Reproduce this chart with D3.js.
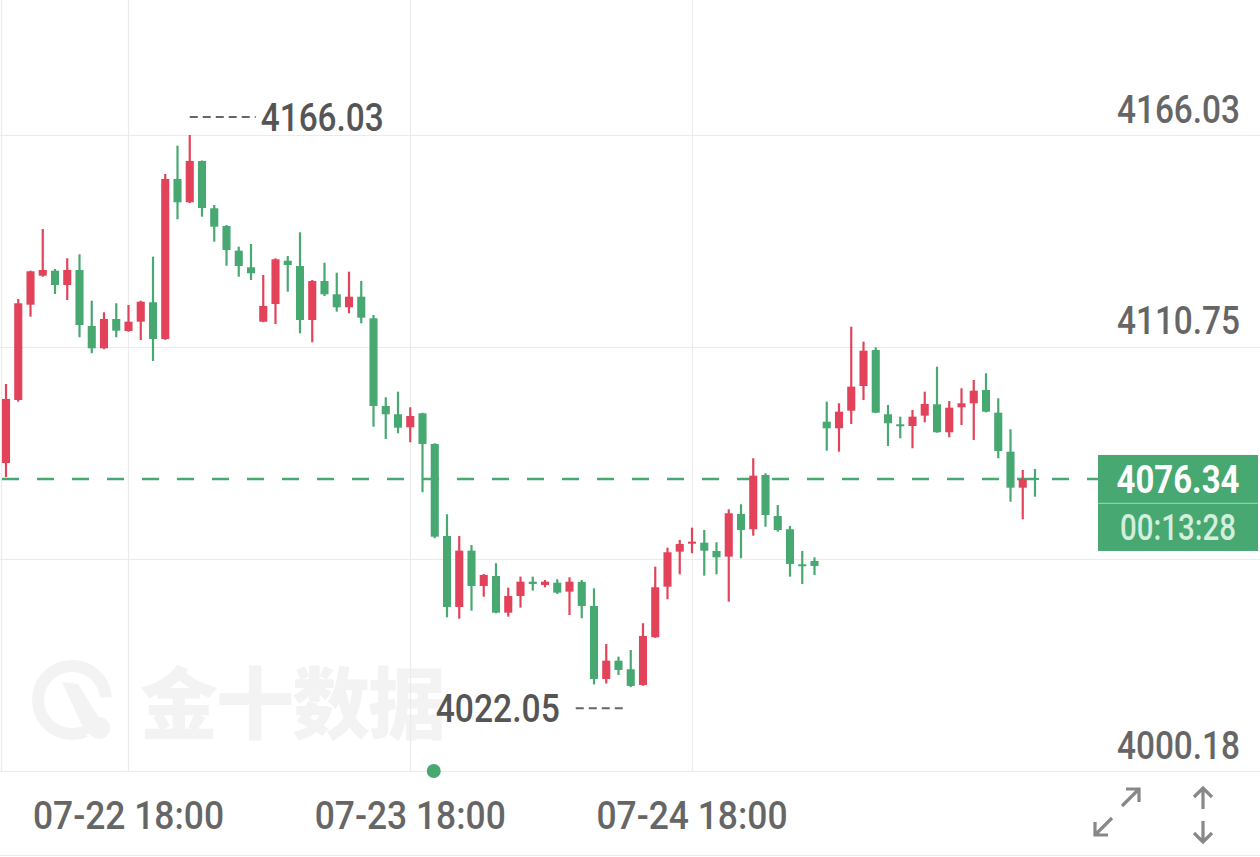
<!DOCTYPE html>
<html>
<head>
<meta charset="utf-8">
<script src="https://cdn.jsdelivr.net/npm/d3@7"></script>
<style>
  html, body { margin: 0; padding: 0; background: #fff; }
  svg { display: block; }
</style>
</head>
<body>
<div id="chart"></div>
<script>
// hourly candles, 07-22 08:00 onwards (one hour break each day)
const opens = [4080.50, 4096.93, 4121.78, 4129.34, 4130.65, 4126.92, 4130.83, 4116.23, 4110.41, 4118.05,
  4114.92, 4117.35, 4122.41, 4112.84, 4154.56, 4148.48, 4159.25, 4146.92, 4142.30, 4135.86,
  4131.53, 4117.35, 4121.96, 4133.25, 4131.87, 4117.79, 4127.96, 4124.49, 4121.10, 4123.87,
  4118.23, 4095.37, 4093.20, 4089.81, 4093.46, 4085.46, 4061.47, 4042.96, 4057.64, 4048.43,
  4051.04, 4041.47, 4045.82, 4049.55, 4048.69, 4049.29, 4046.95, 4049.50, 4043.22, 4024.18,
  4028.95, 4026.71, 4022.62, 4035.06, 4048.25, 4057.38, 4059.56, 4059.72, 4057.56, 4056.07,
  4067.21, 4063.22, 4077.37, 4066.68, 4063.22, 4054.09, 4054.95, 4091.27, 4089.55, 4094.14,
  4100.58, 4109.97, 4093.20, 4090.59, 4090.15, 4092.84, 4095.81, 4088.51, 4095.03, 4096.07,
  4099.54, 4093.62, 4083.45, 4074.06, 4076.60];
const highs = [4101.10, 4123.27, 4130.65, 4141.52, 4131.09, 4133.88, 4134.92, 4122.82, 4119.80, 4122.15,
  4121.70, 4122.82, 4134.30, 4155.86, 4163.24, 4166.03, 4159.40, 4147.78, 4142.56, 4136.90,
  4137.61, 4129.52, 4133.88, 4134.48, 4140.66, 4128.22, 4132.73, 4130.12, 4130.39, 4127.96,
  4119.09, 4097.64, 4099.10, 4095.03, 4093.60, 4085.64, 4067.13, 4061.47, 4059.12, 4051.56,
  4054.35, 4047.99, 4050.86, 4050.86, 4050.00, 4050.18, 4050.70, 4050.00, 4047.83, 4033.31,
  4030.00, 4031.74, 4038.71, 4053.46, 4058.42, 4060.43, 4063.63, 4063.03, 4059.83, 4068.43,
  4069.73, 4081.73, 4077.82, 4069.55, 4064.08, 4057.56, 4055.91, 4096.49, 4096.07, 4116.04,
  4112.13, 4110.67, 4095.63, 4092.58, 4094.32, 4099.10, 4105.61, 4096.67, 4099.98, 4102.15,
  4103.89, 4097.37, 4089.29, 4078.68, 4078.94];
const lows = [4076.85, 4096.50, 4118.65, 4129.08, 4124.57, 4123.01, 4113.28, 4109.11, 4110.20, 4113.28,
  4114.74, 4112.58, 4107.10, 4112.60, 4144.05, 4148.30, 4144.73, 4138.21, 4131.95, 4129.08,
  4128.22, 4117.20, 4116.75, 4125.17, 4114.32, 4111.98, 4124.05, 4119.96, 4119.54, 4116.93,
  4089.97, 4086.76, 4088.25, 4085.90, 4072.86, 4060.87, 4040.27, 4039.90, 4041.99, 4045.64,
  4041.30, 4040.43, 4042.77, 4047.21, 4048.09, 4046.35, 4040.87, 4040.01, 4022.75, 4023.01,
  4025.22, 4022.05, 4022.40, 4034.90, 4044.96, 4051.48, 4056.96, 4051.12, 4051.48, 4044.34,
  4055.65, 4061.55, 4063.89, 4062.59, 4050.86, 4048.95, 4051.30, 4083.71, 4083.45, 4090.67,
  4096.93, 4093.50, 4084.94, 4086.94, 4084.34, 4091.11, 4088.40, 4087.21, 4090.41, 4086.50,
  4093.70, 4081.73, 4070.41, 4065.82, 4071.72];
const closes = [4097.19, 4122.15, 4130.49, 4130.83, 4126.92, 4130.83, 4116.49, 4110.41, 4118.05, 4115.00,
  4117.35, 4122.56, 4112.84, 4154.56, 4148.48, 4159.25, 4147.00, 4142.12, 4136.04, 4131.87,
  4129.97, 4121.44, 4133.62, 4132.13, 4117.79, 4127.96, 4124.49, 4121.10, 4123.87, 4118.39,
  4095.37, 4093.20, 4089.71, 4092.76, 4085.46, 4061.29, 4042.96, 4057.64, 4048.43, 4051.30,
  4041.47, 4045.82, 4049.55, 4048.95, 4049.55, 4046.69, 4049.55, 4043.22, 4024.18, 4028.95,
  4026.53, 4022.36, 4035.39, 4048.09, 4057.22, 4059.38, 4059.98, 4057.64, 4055.91, 4067.39,
  4063.03, 4077.19, 4066.94, 4063.03, 4054.17, 4053.65, 4053.65, 4089.55, 4093.88, 4100.40,
  4109.79, 4093.62, 4090.86, 4090.15, 4092.58, 4095.89, 4088.51, 4094.92, 4096.07, 4099.36,
  4093.88, 4083.63, 4074.06, 4076.25, 4076.34];

// time categories: 07-22 08:00 ... hourly, market closed 06:00
const categories = [];
{
  let day = 22, hour = 8;
  while (categories.length < closes.length) {
    categories.push(`07-${day} ${String(hour).padStart(2, '0')}:00`);
    hour++;
    if (hour === 24) { hour = 0; day++; }
    if (hour === 6) hour = 7;
  }
}
const timeTicks = ['07-22 18:00', '07-23 18:00', '07-24 18:00'];
const priceTicks = [4166.03, 4110.75, 4055.47, 4000.18];
const hiddenTick = 4055.47;   // label sits under the price box
const lastPrice = 4076.34;
const countdown = '00:13:28';
const maxLabel = '4166.03';
const minLabel = '4022.05';

const W = 1260, H = 857;
const RED = '#e2435a', GREEN = '#47a872', GRID = '#ebebeb', TXT = '#666';
const NUMFONT = 'Roboto, "DejaVu Sans", sans-serif';

const svg = d3.select('#chart').append('svg')
  .attr('width', W).attr('height', H);

svg.append('rect').attr('width', W).attr('height', H).attr('fill', '#fff');

const x = d3.scaleBand()
  .domain(categories)
  .range([-0.125, -0.125 + 12.25 * categories.length])
  .paddingInner(0.34)
  .paddingOuter(0.17);

const y = d3.scaleLinear()
  .domain([4000.18, 4166.03])
  .range([771, 135]);

const cx = c => x(c) + x.bandwidth() / 2;

// watermark
const wm = svg.append('g').attr('fill', '#f3f3f3');
wm.append('path')
  .attr('d', d3.arc()({ innerRadius: 28, outerRadius: 40, startAngle: 2.75, endAngle: 2.75 + Math.PI * 1.6 }))
  .attr('transform', 'translate(72,700)');
wm.append('path')
  .attr('d', 'M62,682 L78,684 L104,726 L98,733 L86,734 Z');
wm.append('circle').attr('cx', 99).attr('cy', 728).attr('r', 11);
wm.append('text')
  .attr('x', 140).attr('y', 733)
  .attr('font-family', '"Noto Sans CJK SC", sans-serif')
  .attr('font-weight', 900).attr('font-size', 78)
  .attr('textLength', 306).attr('lengthAdjust', 'spacing')
  .text('金十数据');

// grid
svg.append('g').selectAll('line').data(priceTicks).enter().append('line')
  .attr('x1', 0).attr('x2', W)
  .attr('y1', d => Math.round(y(d)) + 0.5).attr('y2', d => Math.round(y(d)) + 0.5)
  .attr('stroke', GRID).attr('stroke-width', 1.2);
svg.append('g').selectAll('line').data(timeTicks).enter().append('line')
  .attr('x1', d => Math.round(cx(d)) + 0.5).attr('x2', d => Math.round(cx(d)) + 0.5)
  .attr('y1', 0).attr('y2', 771)
  .attr('stroke', GRID).attr('stroke-width', 1.2);
svg.append('line').attr('x1', 1.5).attr('x2', 1.5).attr('y1', 0).attr('y2', 771)
  .attr('stroke', GRID).attr('stroke-width', 1.2);
svg.append('line').attr('x1', 0).attr('x2', W).attr('y1', 855.5).attr('y2', 855.5)
  .attr('stroke', GRID).attr('stroke-width', 1.2);

// y axis labels (sit above their grid lines)
const yAxis = svg.append('g')
  .attr('transform', 'translate(1240,0)')
  .call(d3.axisLeft(y).tickValues(priceTicks).tickFormat(d3.format('.2f')).tickSize(0).tickPadding(0));
yAxis.select('.domain').remove();
yAxis.selectAll('.tick').filter(d => d === hiddenTick).remove();
yAxis.selectAll('text')
  .attr('dy', null).attr('y', -13)
  .attr('fill', TXT)
  .attr('font-family', NUMFONT).attr('font-weight', 500).attr('font-size', 39)
  .attr('textLength', 123).attr('lengthAdjust', 'spacingAndGlyphs');

// x axis labels
const xAxis = svg.append('g')
  .attr('transform', 'translate(0,771)')
  .call(d3.axisBottom(x).tickValues(timeTicks).tickSize(0).tickPadding(0));
xAxis.select('.domain').remove();
xAxis.selectAll('text')
  .attr('dy', null).attr('y', 58)
  .attr('fill', TXT)
  .attr('font-family', NUMFONT).attr('font-weight', 500).attr('font-size', 39)
  .attr('textLength', 191).attr('lengthAdjust', 'spacingAndGlyphs');

// last price dashed line
svg.append('line')
  .attr('x1', 2).attr('x2', 1098)
  .attr('y1', y(lastPrice)).attr('y2', y(lastPrice))
  .attr('stroke', GREEN).attr('stroke-width', 2.6)
  .attr('stroke-dasharray', '17 18');

// candles
const candles = categories.map((c, i) => ({ c, o: opens[i], h: highs[i], l: lows[i], cl: closes[i] }));
const g = svg.append('g');
const bw = x.bandwidth();
g.selectAll('.wick').data(candles).enter().append('line')
  .attr('x1', d => cx(d.c)).attr('x2', d => cx(d.c))
  .attr('y1', d => y(d.h)).attr('y2', d => y(d.l))
  .attr('stroke', d => d.cl >= d.o ? RED : GREEN)
  .attr('stroke-width', 2.2);
g.selectAll('.body').data(candles).enter().append('rect')
  .attr('x', d => x(d.c))
  .attr('width', bw)
  .attr('y', d => y(Math.max(d.o, d.cl)))
  .attr('height', d => Math.max(2, Math.abs(y(d.o) - y(d.cl))))
  .attr('fill', d => d.cl >= d.o ? RED : GREEN);

// max / min markers
const iMax = highs.indexOf(d3.max(highs));
const iMin = lows.indexOf(d3.min(lows));
const maxX = cx(categories[iMax]), maxY = y(highs[iMax]);
svg.append('line')
  .attr('x1', maxX).attr('x2', maxX + 66).attr('y1', maxY - 18).attr('y2', maxY - 18)
  .attr('stroke', '#666').attr('stroke-width', 2).attr('stroke-dasharray', '8 5');
svg.append('text')
  .attr('x', maxX + 71).attr('y', maxY - 4)
  .attr('fill', '#555').attr('font-family', NUMFONT).attr('font-weight', 500).attr('font-size', 39)
  .attr('textLength', 123).attr('lengthAdjust', 'spacingAndGlyphs')
  .text(maxLabel);
const minX = cx(categories[iMin]), minY = y(lows[iMin]);
svg.append('line')
  .attr('x1', minX - 55).attr('x2', minX - 4).attr('y1', minY + 21).attr('y2', minY + 21)
  .attr('stroke', '#666').attr('stroke-width', 2).attr('stroke-dasharray', '8 5');
svg.append('text')
  .attr('x', minX - 71).attr('y', minY + 35)
  .attr('text-anchor', 'end')
  .attr('fill', '#555').attr('font-family', NUMFONT).attr('font-weight', 500).attr('font-size', 39)
  .attr('textLength', 124).attr('lengthAdjust', 'spacingAndGlyphs')
  .text(minLabel);

// event dot
svg.append('circle').attr('cx', cx(categories[35]) - 1).attr('cy', 771).attr('r', 7).attr('fill', GREEN);

// price box
const py = y(lastPrice);
const box = svg.append('g');
box.append('rect').attr('x', 1098).attr('y', py - 24).attr('width', 160).attr('height', 96).attr('fill', GREEN);
box.append('line').attr('x1', 1098).attr('x2', 1258).attr('y1', py + 24.5).attr('y2', py + 24.5)
  .attr('stroke', '#8fd0ab').attr('stroke-width', 1.2);
box.append('text')
  .attr('x', 1178).attr('y', py + 14).attr('text-anchor', 'middle')
  .attr('fill', '#fff').attr('font-family', NUMFONT).attr('font-weight', 700).attr('font-size', 38)
  .attr('textLength', 123).attr('lengthAdjust', 'spacingAndGlyphs')
  .text(lastPrice.toFixed(2));
box.append('text')
  .attr('x', 1178).attr('y', py + 61).attr('text-anchor', 'middle')
  .attr('fill', '#d3eedd').attr('font-family', NUMFONT).attr('font-weight', 500).attr('font-size', 36)
  .attr('textLength', 116).attr('lengthAdjust', 'spacingAndGlyphs')
  .text(countdown);

// corner icons
const ic = svg.append('g').attr('stroke', '#888').attr('stroke-width', 3.2).attr('fill', 'none');
ic.append('path').attr('d', 'M1122,806 L1139,789 M1126,789 L1139,789 L1139,802');
ic.append('path').attr('d', 'M1112,818 L1095,835 M1108,835 L1095,835 L1095,822');
ic.append('path').attr('d', 'M1203,809 L1203,788 M1194,797 L1203,788 L1212,797');
ic.append('path').attr('d', 'M1203,821 L1203,842 M1194,833 L1203,842 L1212,833');
</script>
</body>
</html>
